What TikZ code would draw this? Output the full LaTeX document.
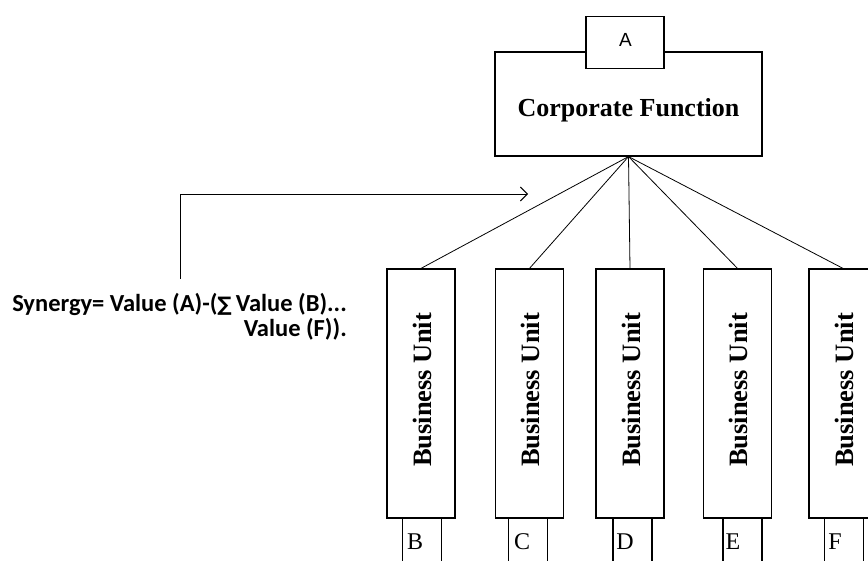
\documentclass[tikz,border=0pt]{standalone}
\usepackage{fontspec}
\setmainfont{Liberation Serif}
\newfontfamily\synfont{Carlito}
\newfontfamily\symfont{DejaVu Sans}
\newfontfamily\arialfont{Liberation Sans}
\usetikzlibrary{arrows.meta}
\begin{document}
\begin{tikzpicture}[x=1pt,y=-1pt,
  box/.style={draw, line width=1.2pt, inner sep=0pt, fill=white},
  bu/.style={box, minimum width=68pt, minimum height=249pt},
  tab/.style={box, minimum width=39pt, minimum height=60pt},
  conn/.style={line width=0.8pt},
  butext/.style={rotate=90, font=\fontsize{26.5}{26.5}\selectfont\bfseries},
  syntext/.style={anchor=base east, inner sep=0pt, font=\synfont\bfseries\fontsize{24.5}{25}\selectfont}
]
\clip (0,0) rectangle (868,561);
\fill[white] (0,0) rectangle (868,561);
% top
\node[box, minimum width=267pt, minimum height=104pt] (corp) at (628.5,104) {};
\node[font=\fontsize{26}{26}\selectfont\bfseries] (corplab) at (628.5,110) {Corporate Function};
\node[box, minimum width=78pt, minimum height=52pt, anchor=north] (A) at (625,16) {};
\node[font=\arialfont\fontsize{19}{19}\selectfont] (Alab) at (625.5,40) {A};
% bottom tabs
\foreach \n/\x in {b/422, c/528, d/632.5, e/742.5, f/844}{
  \node[tab, anchor=north] (t\n) at (\x,518) {};
}
\foreach \n/\x/\l in {b/415/B, c/522/C, d/625/D, e/733/E, f/835/F}{
  \node[font=\fontsize{24}{24}\selectfont] (l\n) at (\x,542) {\l};
}
% business units
\node[bu] (ub) at (421,393.5) {};
\node[bu] (uc) at (529.5,393.5) {};
\node[bu] (ud) at (630,393.5) {};
\node[bu] (ue) at (737.5,393.5) {};
\node[bu] (uf) at (843,393.5) {};
\foreach \n/\x in {b/421, c/529.5, d/630, e/737.5, f/843}{
  \node[butext] (bt\n) at (\x+1,390) {Business Unit};
}
% fan
\foreach \n in {b,c,d,e,f}{
  \draw[conn] (corp.south) -- (u\n.north);
}
% synergy
\coordinate (s0) at (180,279);
\coordinate (s1) at (180,194);
\coordinate (s2) at (528,194);
\draw[conn, -{Straight Barb[length=7pt,width=14pt,line width=0.9pt]}] (s0) -- (s1) -- (s2);
\node[syntext] (syn1) at (347,312)
  {Synergy= Value (A)-({\symfont\fontsize{20}{20}\selectfont∑}\,Value (B)...};
\node[syntext] (syn2) at (347,337) {Value (F)).};
\end{tikzpicture}
\end{document}
